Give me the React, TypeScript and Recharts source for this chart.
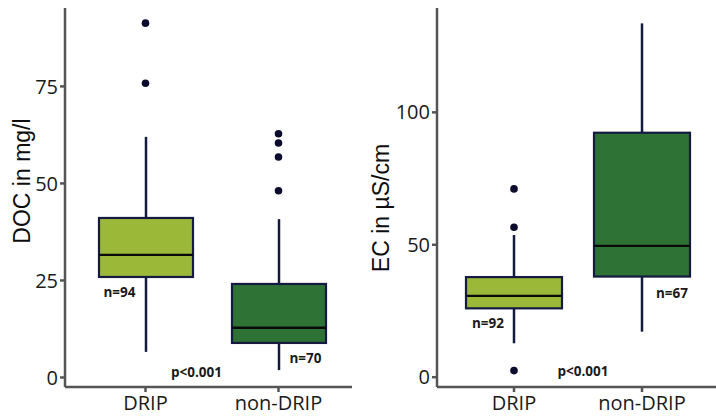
import React from "react";
import { ComposedChart, Bar, Line, XAxis, YAxis, ReferenceDot } from "recharts";

const groups = ["DRIP", "non-DRIP"];

// DOC (mg/l)
const docMin = [6.6, 1.9];
const docQ1 = [25.9, 8.9];
const docMedian = [31.6, 12.8];
const docQ3 = [41.1, 24.1];
const docMax = [62.0, 40.8];
const docOutliers = [[91.3, 75.8], [62.8, 60.4, 56.8, 48.1]];
const docTicks = [0, 25, 50, 75];
const docCounts = ["n=94", "n=70"];

// EC (µS/cm)
const ecMin = [12.8, 17.2];
const ecQ1 = [26.0, 38.0];
const ecMedian = [30.7, 49.6];
const ecQ3 = [37.8, 92.3];
const ecMax = [53.7, 133.6];
const ecOutliers = [[71.1, 56.6, 2.5], []];
const ecTicks = [0, 50, 100];
const ecCounts = ["n=92", "n=67"];

const pText = "p<0.001";

const boxFill = ["#9bb838", "#2e7236"];
const navy = "#141a40";
const axisGray = "#555555";
const textColor = "#1a1a1a";

function buildRows(
  min: number[],
  q1: number[],
  med: number[],
  q3: number[],
  max: number[],
  outliers: number[][]
) {
  return groups.map((g, i) => {
    const row: any = {
      group: g,
      range: [min[i], max[i]],
      min: min[i],
      q1: q1[i],
      median: med[i],
      q3: q3[i],
      max: max[i],
      fill: boxFill[i],
    };
    outliers[i].forEach((v, j) => (row["o" + j] = v));
    return row;
  });
}

const docRows = buildRows(docMin, docQ1, docMedian, docQ3, docMax, docOutliers);
const ecRows = buildRows(ecMin, ecQ1, ecMedian, ecQ3, ecMax, ecOutliers);

function BoxShape(props: any) {
  const { x, y, width, height, payload } = props;
  const top = Math.min(y, y + height);
  const h = Math.abs(height);
  const { min, q1, median, q3, max, fill } = payload;
  const k = h / (max - min);
  const py = (v: number) => top + (max - v) * k;
  const cx = x + width / 2;
  return (
    <g>
      <line x1={cx} x2={cx} y1={py(max)} y2={py(q3)} stroke={navy} strokeWidth={2.5} />
      <line x1={cx} x2={cx} y1={py(q1)} y2={py(min)} stroke={navy} strokeWidth={2.5} />
      <rect
        x={x}
        y={py(q3)}
        width={width}
        height={py(q1) - py(q3)}
        fill={fill}
        stroke={navy}
        strokeWidth={2.2}
      />
      <line x1={x} x2={x + width} y1={py(median)} y2={py(median)} stroke="#0a0a0a" strokeWidth={2.4} />
    </g>
  );
}

const note = (text: string, dx: number) => (p: any) => {
  const vb = p.viewBox || {};
  return (
    <text
      x={vb.x + (vb.width || 0) / 2 + dx}
      y={vb.y + (vb.height || 0) / 2}
      textAnchor="middle"
      dominantBaseline="central"
      fontFamily="Open Sans"
      fontWeight={700}
      fontSize={13.5}
      fill={textColor}
    >
      {text}
    </text>
  );
};

const yTitle = (text: string, cx: number, cy: number) => () => (
  <text
    x={cx}
    y={cy}
    transform={`rotate(-90 ${cx} ${cy})`}
    textAnchor="middle"
    dominantBaseline="central"
    fontFamily="Liberation Sans"
    fontSize={23}
    fill="#0d0d0d"
  >
    {text}
  </text>
);

type PanelProps = {
  rows: any[];
  domain: [number, number];
  ticks: number[];
  yWidth: number;
  marginRight: number;
  padding: { left: number; right: number };
  barSize: number;
  title: any;
  notes: { group: string; value: number; dx: number; text: string }[];
  outlierCount: number;
};

function Panel(p: PanelProps) {
  const keys = Array.from({ length: p.outlierCount }, (_, j) => "o" + j);
  return (
    <ComposedChart
      width={358}
      height={417}
      data={p.rows}
      margin={{ top: 8, right: p.marginRight, bottom: 0, left: 0 }}
      barCategoryGap={0}
    >
      <XAxis
        dataKey="group"
        height={30}
        padding={p.padding}
        axisLine={{ stroke: axisGray, strokeWidth: 2.5 }}
        tickLine={{ stroke: axisGray, strokeWidth: 2.5 }}
        tickSize={5}
        tickMargin={4}
        tick={{ fill: textColor, fontSize: 20, fontFamily: "Open Sans" }}
      />
      <YAxis
        type="number"
        domain={p.domain}
        ticks={p.ticks}
        allowDataOverflow
        interval={0}
        width={p.yWidth}
        axisLine={{ stroke: axisGray, strokeWidth: 2.5 }}
        tickLine={{ stroke: axisGray, strokeWidth: 2.5 }}
        tickSize={5}
        tickMargin={2}
        tick={{ fill: textColor, fontSize: 20, fontFamily: "Open Sans" }}
        label={p.title}
      />
      <Bar dataKey="range" barSize={p.barSize} shape={<BoxShape />} isAnimationActive={false} />
      {keys.map((k) => (
        <Line
          key={k}
          dataKey={k}
          stroke="none"
          dot={{ r: 3.8, fill: "#0b0b2e", stroke: "none" }}
          activeDot={false}
          legendType="none"
          isAnimationActive={false}
        />
      ))}
      {p.notes.map((n, i) => (
        <ReferenceDot
          key={i}
          x={n.group}
          y={n.value}
          r={0}
          stroke="none"
          fill="none"
          label={note(n.text, n.dx)}
        />
      ))}
    </ComposedChart>
  );
}

export default function App() {
  return (
    <div
      style={{
        position: "absolute",
        left: 0,
        top: 0,
        width: 716,
        height: 417,
        background: "#fff",
        display: "flex",
      }}
    >
      <Panel
        rows={docRows}
        domain={[-2.45, 95.2]}
        ticks={docTicks}
        yWidth={65}
        marginRight={6}
        padding={{ left: 14, right: 7 }}
        barSize={94}
        title={yTitle("DOC in mg/l", 22, 181)}
        outlierCount={4}
        notes={[
          { group: groups[0], value: 22.0, dx: -26, text: docCounts[0] },
          { group: groups[1], value: 5.0, dx: 27, text: docCounts[1] },
          { group: groups[0], value: 1.5, dx: 51, text: pText },
        ]}
      />
      <Panel
        rows={ecRows}
        domain={[-3.7, 139.4]}
        ticks={ecTicks}
        yWidth={79}
        marginRight={0}
        padding={{ left: 13, right: 10 }}
        barSize={96}
        title={yTitle("EC in µS/cm", 23, 208)}
        outlierCount={3}
        notes={[
          { group: groups[0], value: 20.6, dx: -26, text: ecCounts[0] },
          { group: groups[1], value: 31.7, dx: 30, text: ecCounts[1] },
          { group: groups[0], value: 2.4, dx: 69, text: pText },
        ]}
      />
    </div>
  );
}
